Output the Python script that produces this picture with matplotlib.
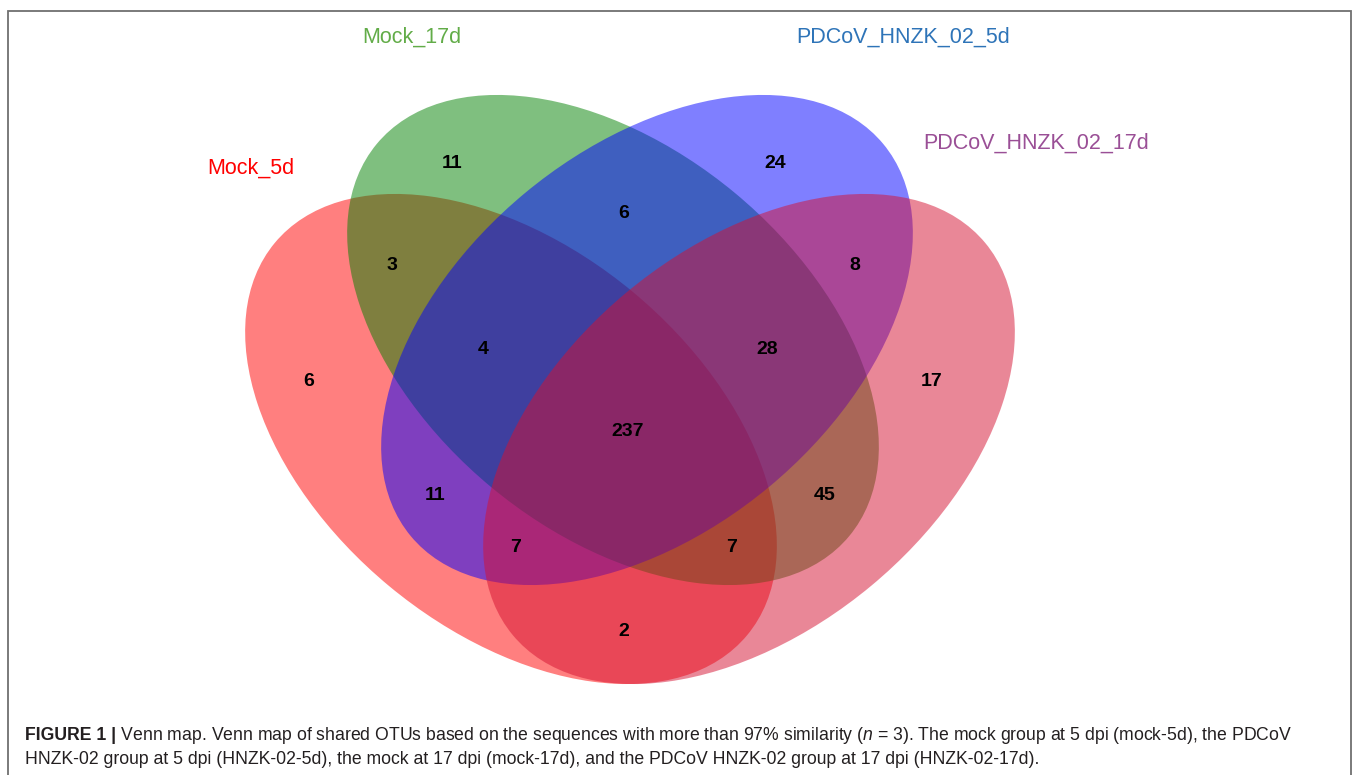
import matplotlib
matplotlib.use("Agg")
import matplotlib.pyplot as plt
from matplotlib.patches import Ellipse, Rectangle

plt.rcParams['font.family'] = ['Liberation Sans', 'DejaVu Sans']
plt.rcParams['mathtext.fontset'] = 'custom'
plt.rcParams['mathtext.rm'] = 'Liberation Sans'
plt.rcParams['mathtext.it'] = 'Liberation Sans:italic'
plt.rcParams['mathtext.bf'] = 'Liberation Sans:bold'

# ---- data ----
set_names = ["Mock_5d", "Mock_17d", "PDCoV_HNZK_02_5d", "PDCoV_HNZK_02_17d"]
set_fill = ["#ff0000", "#008000", "#0000ff", "#d51131"]
set_label_colors = ["#ff0000", "#62ac48", "#2e74b8", "#9a4f96"]

# region counts, in the order listed by region_keys
region_keys = ["G", "B", "GB", "RG", "BP", "RGB", "GBP", "R", "P",
               "RGBP", "RB", "GP", "RBP", "RGP", "RP"]
region_counts = [11, 24, 6, 3, 8, 4, 28, 6, 17, 237, 11, 45, 7, 7, 2]

caption_bold = "FIGURE 1 |"
caption_line1 = (" Venn map. Venn map of shared OTUs based on the sequences with more than "
                 "97% similarity ($\\mathit{n}$ = 3). The mock group at 5 dpi (mock-5d), the PDCoV")
caption_line2 = ("HNZK-02 group at 5 dpi (HNZK-02-5d), the mock at 17 dpi (mock-17d), "
                 "and the PDCoV HNZK-02 group at 17 dpi (HNZK-02-17d).")

# ---- layout (canvas pixel coordinates, y pointing down) ----
W, H = 1360, 775
ellipse_geom = [  # (cx, cy, angle in degrees, screen orientation)
    (511, 439, 39.7),
    (613, 340, 39.7),
    (647, 340, -39.7),
    (749, 439, -39.7),
]
semi_a, semi_b = 307, 191

region_pos = {
    "G": (452, 164), "B": (775, 164), "GB": (624, 214),
    "RG": (392, 265), "BP": (855, 265), "RGB": (483, 349),
    "GBP": (767, 349), "R": (309, 381), "P": (932, 381),
    "RGBP": (628, 431), "RB": (435, 496), "GP": (825, 496),
    "RBP": (516, 547), "RGP": (732, 547), "RP": (624, 631),
}
label_pos = [(251, 168), (412, 37), (903, 37), (1036, 143)]

fig = plt.figure(figsize=(W / 100, H / 100), dpi=100)
ax = fig.add_axes([0, 0, 1, 1])
ax.set_xlim(0, W)
ax.set_ylim(H, 0)
ax.axis("off")

for (cx, cy, ang), col in zip(ellipse_geom, set_fill):
    ax.add_patch(Ellipse((cx, cy), 2 * semi_a, 2 * semi_b, angle=ang,
                         facecolor=col, alpha=0.5, edgecolor="none"))

for key, n in zip(region_keys, region_counts):
    x, y = region_pos[key]
    ax.text(x, y, str(n), ha="center", va="center", fontsize=14,
            fontweight="bold", color="black")

for name, col, (x, y) in zip(set_names, set_label_colors, label_pos):
    ax.text(x, y, name, ha="center", va="center", fontsize=15.5, color=col)

# frame around the figure panel
fig.patches.append(Rectangle((8 / W, -0.02), (1351 - 8) / W, 1 - 11 / H + 0.02,
                             transform=fig.transFigure, fill=False,
                             edgecolor="#707070", linewidth=1.3))

# caption
cap_size = 12.7
tb = fig.text(25 / W, 1 - 740 / H, caption_bold, fontsize=cap_size,
              fontweight="bold", color="#231f20", va="baseline", ha="left")
fig.canvas.draw()
bb = tb.get_window_extent()
fig.text(bb.x1 / W, 1 - 740 / H, caption_line1, fontsize=cap_size,
         color="#231f20", va="baseline", ha="left")
fig.text(25 / W, 1 - 764 / H, caption_line2, fontsize=cap_size,
         color="#231f20", va="baseline", ha="left")

fig.savefig("out.png", dpi=100, facecolor="white")
